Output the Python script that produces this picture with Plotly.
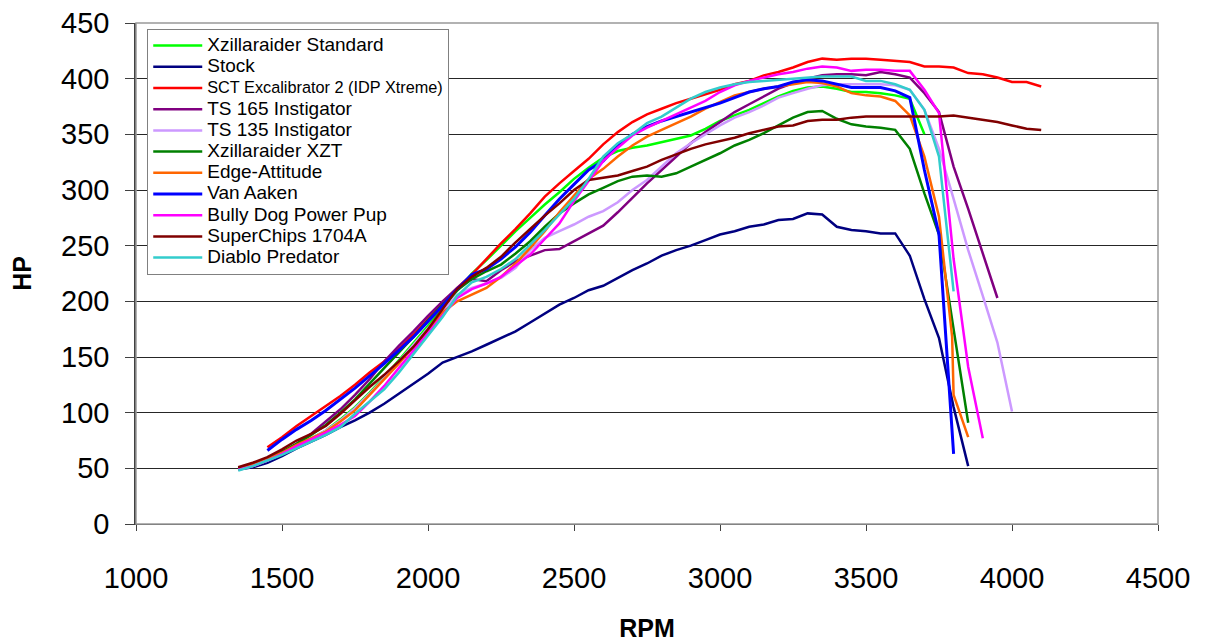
import plotly.graph_objects as go

GRID = [1350, 1400, 1450, 1500, 1550, 1600, 1650, 1700, 1750, 1800, 1850, 1900,
        1950, 2000, 2050, 2100, 2150, 2200, 2250, 2300, 2350, 2400, 2450, 2500,
        2550, 2600, 2650, 2700, 2750, 2800, 2850, 2900, 2950, 3000, 3050, 3100,
        3150, 3200, 3250, 3300, 3350, 3400, 3450, 3500, 3550, 3600, 3650, 3700,
        3750, 3800, 3850, 3900, 3950, 4000, 4050, 4100]

xzill_std_hp = [50, 53, 58, 64, 70, 77, 84, 94, 105, 118, 132, 147, 162, 178, 194, 209, 225, 237, 250, 263,
                275, 287, 298, 310, 320, 329, 335, 338, 340, 343, 346, 349, 355, 362, 367, 372, 378, 384, 389, 392,
                393, 391, 388, 388, 387, 385, 382, 350]
stock_hp = [49, 51, 55, 61, 68, 74, 80, 87, 93, 100, 108, 117, 126, 135, 145, 150, 155, 161, 167, 173,
            181, 189, 197, 203, 210, 214, 221, 228, 234, 241, 246, 250, 255, 260, 263, 267, 269, 273, 274, 279,
            278, 267, 264, 263, 261, 261, 241, 202, 167, 105, 52]
sct_hp = [69, 78, 88, 97, 106, 115, 125, 136, 146, 157, 170, 184, 198, 212, 224, 238, 252, 265, 279, 294,
          306, 317, 328, 341, 352, 361, 368, 373, 378, 382, 386, 390, 395, 398, 403, 406, 410, 415, 418, 417,
          418, 418, 417, 416, 415, 411, 411, 410, 405, 404, 401, 397, 397, 393]
ts165_hp = [50, 53, 57, 64, 72, 81, 92, 103, 116, 130, 146, 160, 173, 187, 200, 212, 220, 218, 228, 236,
            241, 246, 247, 254, 261, 268, 280, 293, 306, 318, 330, 342, 352, 361, 370, 377, 384, 391, 396, 400,
            403, 404, 404, 403, 406, 404, 401, 387, 370, 321, 283, 244, 203]
ts135_hp = [49, 52, 57, 63, 70, 77, 84, 93, 104, 117, 131, 146, 161, 176, 192, 206, 212, 216, 221, 230,
            246, 257, 263, 269, 276, 281, 289, 300, 309, 321, 333, 342, 350, 358, 365, 370, 376, 383, 387, 391,
            394, 395, 395, 395, 395, 394, 390, 372, 337, 292, 246, 205, 163, 101]
xzt_hp = [50, 53, 58, 65, 72, 80, 89, 100, 112, 126, 140, 154, 168, 183, 197, 210, 220, 227, 233, 243,
          254, 267, 279, 288, 296, 302, 308, 312, 313, 312, 315, 321, 327, 333, 340, 345, 351, 358, 365, 370,
          371, 364, 359, 357, 356, 354, 337, 297, 260, 175, 91]
edge_rpm = GRID[:49] + [3780, 3795, 3800, 3850]
edge_hp = [49, 53, 58, 64, 71, 77, 83, 92, 102, 116, 130, 144, 159, 175, 190, 200, 206, 212, 222, 234,
           248, 263, 280, 295, 310, 319, 330, 340, 348, 354, 360, 366, 373, 379, 385, 388, 391, 393, 395, 397,
           396, 393, 387, 385, 384, 380, 367, 330, 276, 201, 168, 116, 78]
vanaaken_hp = [66, 76, 85, 93, 102, 112, 122, 133, 144, 156, 168, 182, 196, 211, 224, 229, 238, 249, 262, 277,
               292, 305, 318, 326, 340, 350, 357, 362, 366, 370, 374, 378, 383, 388, 391, 393, 397, 399, 398, 395,
               392, 392, 392, 389, 383, 318, 260, 63]
bully_hp = [49, 52, 57, 63, 70, 76, 82, 89, 97, 110, 124, 140, 156, 172, 188, 203, 211, 216, 222, 232,
            242, 256, 270, 290, 308, 326, 338, 349, 356, 362, 368, 374, 380, 388, 394, 398, 401, 404, 406, 409,
            411, 410, 407, 408, 408, 407, 407, 390, 369, 238, 141, 77]
superchips_hp = [51, 55, 60, 67, 75, 81, 88, 99, 111, 123, 134, 146, 159, 175, 193, 211, 222, 230, 240, 253,
                 265, 277, 288, 300, 309, 311, 313, 317, 321, 327, 332, 337, 341, 344, 347, 351, 354, 357, 358, 362,
                 363, 363, 365, 366, 366, 366, 366, 366, 366, 367, 365, 363, 361, 358, 355, 354]
diablo_hp = [48, 52, 57, 62, 68, 74, 80, 87, 99, 110, 121, 136, 153, 170, 186, 205, 217, 222, 229, 238,
             251, 264, 278, 292, 310, 330, 342, 350, 360, 366, 374, 382, 388, 392, 395, 397, 398, 399, 400, 401,
             402, 402, 402, 398, 398, 395, 390, 372, 330, 209]

series = [
    ("Xzillaraider Standard", GRID[:len(xzill_std_hp)], xzill_std_hp, "#00FF00", 2.5),
    ("Stock", GRID[:len(stock_hp)], stock_hp, "#000080", 2.5),
    ("SCT Excalibrator 2 (IDP Xtreme)", GRID[2:2 + len(sct_hp)], sct_hp, "#FF0000", 2.5),
    ("TS 165 Instigator", GRID[:len(ts165_hp)], ts165_hp, "#800080", 2.5),
    ("TS 135 Instigator", GRID[:len(ts135_hp)], ts135_hp, "#CC99FF", 2.5),
    ("Xzillaraider XZT", GRID[:len(xzt_hp)], xzt_hp, "#008000", 2.5),
    ("Edge-Attitude", edge_rpm, edge_hp, "#FF6600", 2.5),
    ("Van Aaken", GRID[2:2 + len(vanaaken_hp)], vanaaken_hp, "#0000FF", 3),
    ("Bully Dog Power Pup", GRID[:len(bully_hp)], bully_hp, "#FF00FF", 2.5),
    ("SuperChips 1704A", GRID[:len(superchips_hp)], superchips_hp, "#800000", 2.5),
    ("Diablo Predator", GRID[:len(diablo_hp)], diablo_hp, "#33CCCC", 2.5),
]

FONT = "Liberation Sans, Arial, sans-serif"

fig = go.Figure()
for name, xs, ys, color, w in series:
    if name.startswith("SCT"):
        label = '<span style="font-size:16.3px">%s</span>' % name
    else:
        label = '<span style="font-size:19px">%s</span>' % name
    fig.add_trace(go.Scatter(x=xs, y=ys, mode="lines", name=label,
                             line=dict(color=color, width=w)))

# page body has an 8px margin, so the figure is sized to fit the 1208x642 window
fig.update_layout(
    width=1200, height=634,
    margin=dict(l=128, r=50, t=15, b=118),
    paper_bgcolor="white", plot_bgcolor="white",
    font=dict(family=FONT, color="black"),
    showlegend=True,
    legend=dict(x=0.011, y=0.988, xanchor="left", yanchor="top",
                bgcolor="white", bordercolor="#808080", borderwidth=1,
                font=dict(size=14, family=FONT), itemwidth=49),
    shapes=[dict(type="rect", xref="paper", yref="paper", x0=0, y0=0, x1=1, y1=1,
                 line=dict(color="#999999", width=1.5), layer="above")],
)
fig.update_xaxes(range=[1000, 4500], dtick=500, tick0=1000, automargin=False,
                 showgrid=False, zeroline=False,
                 showline=True, linecolor="#404040", linewidth=1,
                 ticks="outside", ticklen=6, tickcolor="#404040",
                 ticklabeloverflow="allow",
                 tickfont=dict(size=29, family=FONT), ticklabelstandoff=22,
                 title=dict(text="<b>RPM</b>", font=dict(size=25, family=FONT), standoff=27))
fig.update_yaxes(range=[0, 450], dtick=50, tick0=0, automargin=False,
                 showgrid=True, gridcolor="#262626", gridwidth=1,
                 zeroline=False,
                 showline=True, linecolor="#404040", linewidth=1.5,
                 ticks="outside", ticklen=9, tickcolor="#404040",
                 ticklabeloverflow="allow",
                 tickfont=dict(size=29, family=FONT), ticklabelstandoff=10,
                 title=dict(text="<b>HP</b>", font=dict(size=25, family=FONT), standoff=22))

fig.write_html("out.html")
